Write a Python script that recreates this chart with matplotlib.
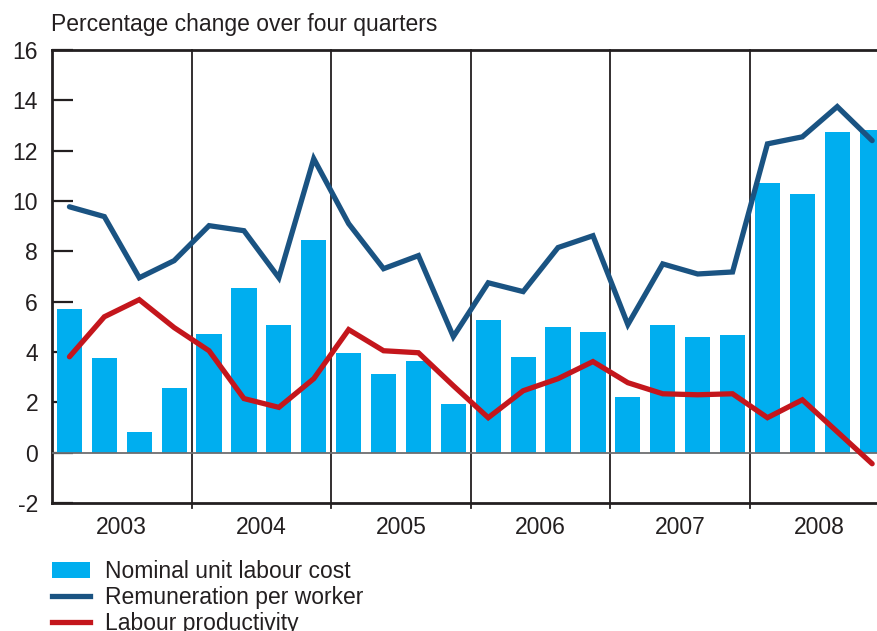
import numpy as np
import matplotlib
matplotlib.use("Agg")
import matplotlib.pyplot as plt
from matplotlib.patches import Patch
from matplotlib.lines import Line2D

plt.rcParams['font.family'] = ['Liberation Sans', 'DejaVu Sans']

years = ["2003", "2004", "2005", "2006", "2007", "2008"]

# Nominal unit labour cost (bars), one value per quarter
unit_cost = [5.72, 3.77, 0.83, 2.58,
             4.73, 6.56, 5.09, 8.46,
             3.97, 3.14, 3.66, 1.95,
             5.28, 3.81, 5.01, 4.81,
             2.22, 5.09, 4.61, 4.69,
             10.73, 10.29, 12.75, 12.83]

# Remuneration per worker
remuneration = [9.77, 9.38, 6.95, 7.63,
                9.02, 8.82, 6.95, 11.68,
                9.10, 7.31, 7.83, 4.61,
                6.75, 6.40, 8.15, 8.62,
                5.09, 7.50, 7.10, 7.18,
                12.27, 12.55, 13.75, 12.40]

# Labour productivity
productivity = [3.81, 5.40, 6.08, 4.97,
                4.05, 2.15, 1.80, 2.94,
                4.89, 4.05, 3.97, 2.66,
                1.39, 2.46, 2.94, 3.62,
                2.78, 2.34, 2.30, 2.34,
                1.39, 2.10, 0.83, -0.44]

c_bar = "#00aeef"
c_blue = "#1a5382"
c_red = "#c4161c"
c_dark = "#231f20"
fs = 16.5

fig = plt.figure(figsize=(8.78, 6.31), dpi=100)
W, H = 878, 631
ax = fig.add_axes([52/W, 1-503/H, (24*34.9)/W, (503-50)/H])

x = np.arange(len(unit_cost))
ax.bar(x, unit_cost, width=0.72, color=c_bar, zorder=2)
ax.axhline(0, color="#6d6e71", lw=1.3, zorder=3)
for k in range(1, len(years)):
    ax.axvline(4*k-0.5, color=c_dark, lw=1.3, zorder=1, ymin=-0.01, clip_on=False)
ax.plot(x, remuneration, color=c_blue, lw=3.8, zorder=4, solid_capstyle="round", solid_joinstyle="miter")
ax.plot(x, productivity, color=c_red, lw=3.8, zorder=5, solid_capstyle="round", solid_joinstyle="miter")

ax.set_xlim(-0.5, 23.5)
ax.set_ylim(-2, 16)
ax.set_yticks(np.arange(-2, 17, 2))
ax.set_yticklabels([str(v) for v in range(-2, 17, 2)])
ax.set_xticks([4*k+1.5 for k in range(len(years))])
ax.set_xticklabels(years)
ax.tick_params(axis="y", direction="in", length=15, width=1.6, color=c_dark,
               labelsize=fs, labelcolor=c_dark, pad=10)
ax.tick_params(axis="x", length=0, labelsize=fs, labelcolor=c_dark, pad=9)

for s in ["left", "top", "bottom"]:
    ax.spines[s].set_linewidth(2)
    ax.spines[s].set_color(c_dark)
ax.spines["right"].set_visible(False)

fig.text(51/W, 1-25/H, "Percentage change over four quarters", fontsize=fs,
         color=c_dark, va="center", ha="left")

handles = [Patch(facecolor=c_bar, edgecolor="none"),
           Line2D([], [], color=c_blue, lw=3.8),
           Line2D([], [], color=c_red, lw=3.8)]
labels = ["Nominal unit labour cost", "Remuneration per worker", "Labour productivity"]
leg = fig.legend(handles, labels, loc="upper left", bbox_to_anchor=(52/W, 1-560/H),
                 frameon=False, fontsize=fs, handlelength=1.66, handletextpad=0.65,
                 labelspacing=0.14, borderpad=0, borderaxespad=0)
for t in leg.get_texts():
    t.set_color(c_dark)

fig.savefig("out.png", dpi=100)
